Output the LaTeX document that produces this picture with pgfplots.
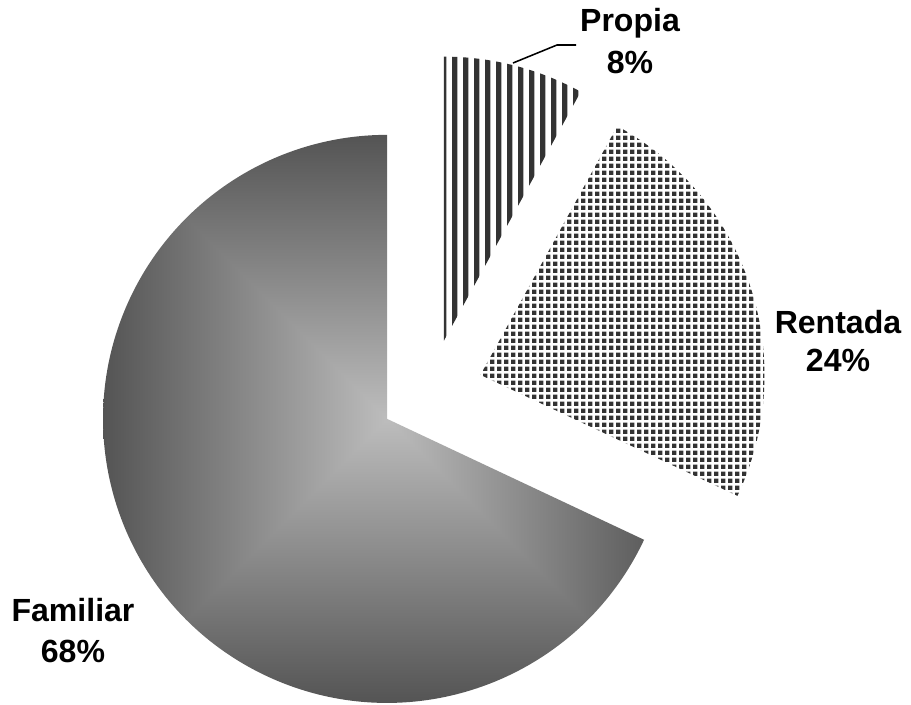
\documentclass[border=0pt]{standalone}
\usepackage{fontspec}
\setmainfont{Liberation Sans}
\usepackage{pgfplots}
\pgfplotsset{compat=1.18}
\usepackage{pgfplotstable}
\usetikzlibrary{patterns}

\definecolor{slicedark}{HTML}{333333}

% shares in percent
\pgfplotstableread{
label share
Propia 8
Rentada 24
Familiar 68
}\shares

\pgfplotstablegetelem{0}{share}\of\shares \let\vP\pgfplotsretval
\pgfplotstablegetelem{1}{share}\of\shares \let\vR\pgfplotsretval
\pgfplotstablegetelem{2}{share}\of\shares \let\vF\pgfplotsretval

% slice boundaries, clockwise from 12 o'clock
\pgfmathsetmacro\aA{90}
\pgfmathsetmacro\aB{\aA-3.6*\vP}
\pgfmathsetmacro\aC{\aB-3.6*\vR}
\pgfmathsetmacro\aD{\aC-3.6*\vF}

% pie centre, radius and explosion (in px of the 911x704 frame)
\def\cx{431}\def\cy{-391}\def\rr{284}\def\ex{52}
\pgfmathsetmacro\cPx{\cx+\ex*cos((\aA+\aB)/2)}
\pgfmathsetmacro\cPy{\cy+\ex*sin((\aA+\aB)/2)}
\pgfmathsetmacro\cRx{\cx+\ex*cos((\aB+\aC)/2)}
\pgfmathsetmacro\cRy{\cy+\ex*sin((\aB+\aC)/2)}
\pgfmathsetmacro\cFx{\cx+\ex*cos((\aC+\aD)/2)}
\pgfmathsetmacro\cFy{\cy+\ex*sin((\aC+\aD)/2)}

\pgfdeclarepatternformonly{vstripes}{\pgfpointorigin}{\pgfpoint{7.47pt}{1pt}}{\pgfpoint{7.47pt}{1pt}}{%
  \pgfpathrectangle{\pgfpointorigin}{\pgfpoint{4.0pt}{1pt}}\pgfusepath{fill}}
\pgfdeclarepatternformonly{grid squares}{\pgfpointorigin}{\pgfpoint{4.77pt}{4.77pt}}{\pgfpoint{4.77pt}{4.77pt}}{%
  \pgfpathrectangle{\pgfpointorigin}{\pgfpoint{3.2pt}{3.2pt}}\pgfusepath{fill}}
% rectangular "from centre" gradient (tikz maps the central 50bp square onto the path)
\pgfdeclarefunctionalshading{rectgrad}{\pgfpoint{-50bp}{-50bp}}{\pgfpoint{50bp}{50bp}}{}{%
  abs exch abs 2 copy lt {exch} if pop 25 div 0.41 mul 0.74 exch sub dup dup}

\begin{document}
\begin{tikzpicture}
\begin{axis}[
    x=0.25mm, y=0.25mm,
    xmin=0, xmax=911, ymin=-704, ymax=0,
    hide axis, clip=false,
  ]
  \coordinate (bl) at (axis cs:0,-704);
  \coordinate (tr) at (axis cs:911,0);

  % Familiar
  \begin{scope}
    \clip (axis cs:\cFx,\cFy) -- ++(\aC:71mm) arc[start angle=\aC, end angle=\aD, radius=71mm] -- cycle;
    \shade[shading=rectgrad] (axis cs:\cFx-284,\cFy-284) rectangle (axis cs:\cFx+284,\cFy+284);
  \end{scope}

  % Rentada
  \fill[white] (axis cs:\cRx,\cRy) -- ++(\aB:71mm) arc[start angle=\aB, end angle=\aC, radius=71mm] -- cycle;
  \fill[pattern=grid squares, pattern color=slicedark] (axis cs:\cRx,\cRy) -- ++(\aB:71mm) arc[start angle=\aB, end angle=\aC, radius=71mm] -- cycle;

  % Propia
  \fill[white] (axis cs:\cPx,\cPy) -- ++(\aA:71mm) arc[start angle=\aA, end angle=\aB, radius=71mm] -- cycle;
  \fill[pattern=vstripes, pattern color=slicedark] (axis cs:\cPx,\cPy) -- ++(\aA:71mm) arc[start angle=\aA, end angle=\aB, radius=71mm] -- cycle;

  % labels
  \draw[black, line width=1.1pt] (axis cs:513,-63) -- (axis cs:557,-45) -- (axis cs:576,-45);
  \begin{scope}[every node/.style={font=\fontsize{22.8}{27}\selectfont\bfseries, anchor=base, inner sep=0pt}]
    \node at (axis cs:630,-32) {Propia};
    \node at (axis cs:630,-74) {\vP\%};
    \node at (axis cs:838,-334) {Rentada};
    \node at (axis cs:838,-372) {\vR\%};
    \node at (axis cs:73,-621) {Familiar};
    \node at (axis cs:73,-662) {\vF\%};
  \end{scope}
\end{axis}
\pgfresetboundingbox
\path (bl) rectangle (tr);
\end{tikzpicture}
\end{document}
